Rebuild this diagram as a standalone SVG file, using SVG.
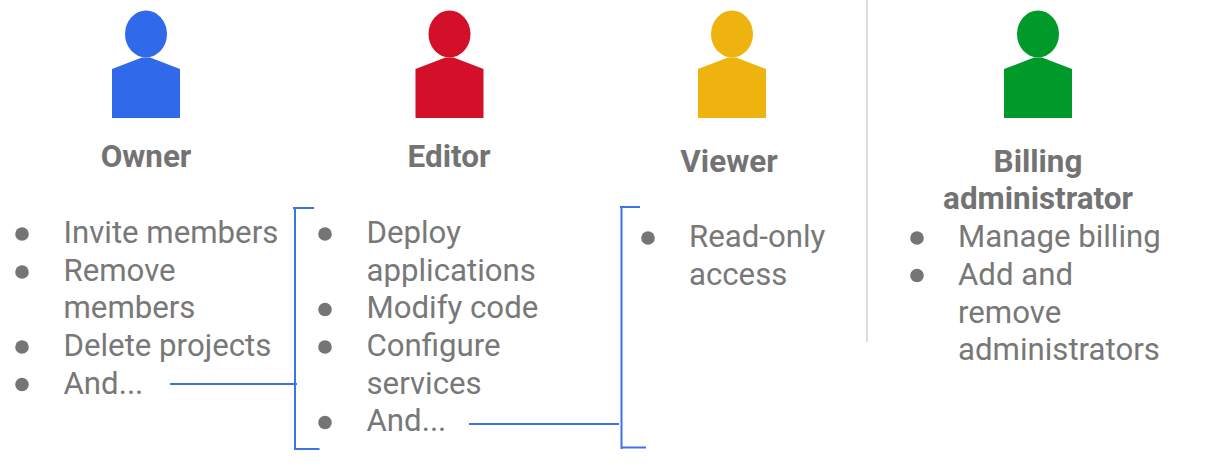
<svg xmlns="http://www.w3.org/2000/svg" width="1213" height="472" viewBox="0 0 1213 472">
<style>
.t{font-family:Roboto,"Liberation Sans",sans-serif;font-size:31.2px;fill:#787878}
.h{font-family:Roboto,"Liberation Sans",sans-serif;font-size:31.4px;font-weight:700;fill:#737373;text-anchor:middle}
.b{fill:#757575}
.c{stroke:#3f72e4;stroke-width:2;fill:none}
</style>
<defs>
<g id="p"><ellipse cx="0" cy="34" rx="21" ry="23.500"/><path d="M-34 69L-4 57.500H4L34 69V118H-34Z"/></g>
</defs>
<rect width="1213" height="472" fill="#fff"/>
<g id="owner">
<use href="#p" x="146" fill="#3069ea"/>
<text class="h" x="146" y="167">Owner</text>
<circle class="b" cx="22" cy="234" r="6.800"/><circle class="b" cx="22" cy="272" r="6.800"/><circle class="b" cx="22" cy="347" r="6.800"/><circle class="b" cx="22" cy="384.500" r="6.800"/>
<text class="t" x="63.500" y="243">Invite members</text>
<text class="t" x="63.500" y="281">Remove</text>
<text class="t" x="63.500" y="318">members</text>
<text class="t" x="63.500" y="356">Delete projects</text>
<text class="t" x="63.500" y="393.500">And...</text>
</g>
<g id="editor">
<use href="#p" x="449.500" fill="#d40f29"/>
<text class="h" x="449" y="167">Editor</text>
<circle class="b" cx="325" cy="234" r="6.800"/><circle class="b" cx="325" cy="309.500" r="6.800"/><circle class="b" cx="325" cy="347" r="6.800"/><circle class="b" cx="325" cy="422.500" r="6.800"/>
<text class="t" x="366.500" y="243">Deploy</text>
<text class="t" x="366.500" y="281">applications</text>
<text class="t" x="366.500" y="318">Modify code</text>
<text class="t" x="366.500" y="356">Configure</text>
<text class="t" x="366.500" y="393.500">services</text>
<text class="t" x="366.500" y="431">And...</text>
</g>
<g id="viewer">
<use href="#p" x="732" fill="#efb30f"/>
<text class="h" x="729" y="172">Viewer</text>
<circle class="b" cx="648" cy="238" r="6.800"/>
<text class="t" x="689" y="247">Read-only</text>
<text class="t" x="689" y="285">access</text>
</g>
<g id="billing">
<use href="#p" x="1038" fill="#009a2b"/>
<text class="h" x="1038" y="172">Billing</text>
<text class="h" x="1038" y="209">administrator</text>
<circle class="b" cx="917" cy="238" r="6.800"/><circle class="b" cx="917" cy="275.500" r="6.800"/>
<text class="t" x="958" y="247">Manage billing</text>
<text class="t" x="958" y="285">Add and</text>
<text class="t" x="958" y="323">remove</text>
<text class="t" x="958" y="360">administrators</text>
</g>
<g id="connectors">
<path d="M867 0V342" fill="none" stroke="#d0d0d0" stroke-width="1.500"/>
<path class="c" d="M293 208H314M295 208V449H319.500"/>
<path class="c" d="M170 384H297"/>
<path class="c" d="M620 207H640M621.500 207V449M621.500 447.500H646"/>
<path class="c" d="M469 424H619"/>
</g>
</svg>
